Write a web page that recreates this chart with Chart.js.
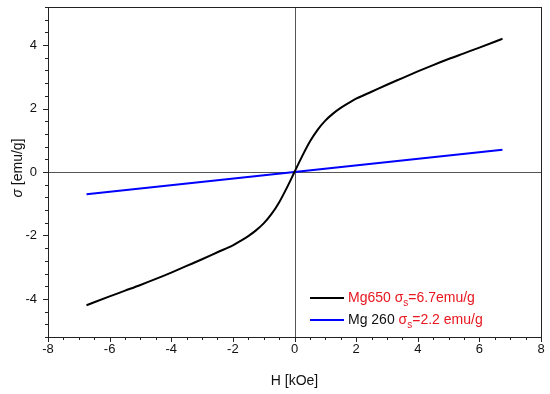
<!DOCTYPE html>
<html>
<head>
<meta charset="utf-8">
<script src="https://cdn.jsdelivr.net/npm/chart.js@4.4.1/dist/chart.umd.min.js"></script>
<style>
  html, body { margin: 0; padding: 0; background: #fff; }
  #wrap { width: 550px; height: 394px; }
</style>
</head>
<body>
<div id="wrap"><canvas id="mag-canvas" width="550" height="394"></canvas></div>
<script>
// data
const fieldMg650 = [-6.75, -6, -5.5, -5, -4.5, -4, -3.5, -3, -2.5, -2, -1.75, -1.5, -1.25, -1, -0.75, -0.5, -0.25, 0,
  0.25, 0.5, 0.75, 1, 1.25, 1.5, 1.75, 2, 2.5, 3, 3.5, 4, 4.5, 5, 5.5, 6, 6.75];
const sigmaMg650 = [-4.2, -3.92, -3.74, -3.56, -3.37, -3.17, -2.96, -2.75, -2.53, -2.31, -2.17, -2.02, -1.84, -1.62, -1.33, -0.96, -0.5, 0,
  0.5, 0.96, 1.33, 1.62, 1.84, 2.02, 2.17, 2.31, 2.53, 2.75, 2.96, 3.17, 3.37, 3.56, 3.74, 3.92, 4.2];
const fieldMg260 = [-6.75, 0, 6.75];
const sigmaMg260 = [-0.7, 0, 0.7];

const xTickLabels = [-8, -6, -4, -2, 0, 2, 4, 6, 8];
const yTickLabels = [-4, -2, 0, 2, 4];

const RED = "#e8161e";
const FONT = "'Liberation Sans', Arial, sans-serif";

const toPoints = (xs, ys) => xs.map((x, i) => ({ x: x, y: ys[i] }));

const stepTicks = (min, max, step) => {
  const out = [];
  for (let i = 0; min + i * step <= max + 1e-9; i++) {
    out.push({ value: +(min + i * step).toFixed(4) });
  }
  return out;
};

const isLabelled = (v, list) => list.some((t) => Math.abs(t - v) < 1e-6);

// frame, zero lines, tick marks, y title and legend
const decorations = {
  id: "decorations",
  beforeDatasetsDraw(chart) {
    const { ctx, chartArea: a, scales } = chart;
    const x0 = scales.x.getPixelForValue(0);
    const y0 = scales.y.getPixelForValue(0);
    ctx.save();
    ctx.strokeStyle = "#555";
    ctx.lineWidth = 1;
    ctx.beginPath();
    ctx.moveTo(Math.round(x0) + 0.5, a.top);
    ctx.lineTo(Math.round(x0) + 0.5, a.bottom);
    ctx.moveTo(a.left, Math.round(y0) + 0.5);
    ctx.lineTo(a.right, Math.round(y0) + 0.5);
    ctx.stroke();
    ctx.restore();
  },
  afterDraw(chart) {
    const { ctx, chartArea: a, scales } = chart;
    ctx.save();
    ctx.strokeStyle = "#222";
    ctx.lineWidth = 1;
    ctx.strokeRect(Math.round(a.left) + 0.5, Math.round(a.top) + 0.5,
      Math.round(a.right - a.left), Math.round(a.bottom - a.top));

    ctx.beginPath();
    scales.x.ticks.forEach((t) => {
      const px = Math.round(scales.x.getPixelForValue(t.value)) + 0.5;
      const len = isLabelled(t.value, xTickLabels) ? 5 : 3;
      ctx.moveTo(px, a.bottom);
      ctx.lineTo(px, a.bottom + len);
    });
    scales.y.ticks.forEach((t) => {
      const py = Math.round(scales.y.getPixelForValue(t.value)) + 0.5;
      const len = isLabelled(t.value, yTickLabels) ? 5 : 3;
      ctx.moveTo(a.left, py);
      ctx.lineTo(a.left - len, py);
    });
    ctx.stroke();

    // y title with italic sigma
    ctx.translate(18, (a.top + a.bottom) / 2 - 4);
    ctx.rotate(-Math.PI / 2);
    ctx.fillStyle = "#111";
    ctx.textBaseline = "middle";
    const sig = "σ";
    const rest = " [emu/g]";
    ctx.font = "14px " + FONT;
    const wRest = ctx.measureText(rest).width;
    ctx.font = "italic 14px " + FONT;
    const wSig = ctx.measureText(sig).width;
    const cx = -(wSig + wRest) / 2;
    ctx.fillText(sig, cx, 0);
    ctx.font = "14px " + FONT;
    ctx.fillText(rest, cx + wSig, 0);
    ctx.restore();

    // legend
    const rows = [
      { color: "#000", parts: [["Mg650 ", RED], ["σ", RED, "s"], ["=6.7emu/g", RED]] },
      { color: "#0000ff", parts: [["Mg 260 ", "#111"], ["σ", RED, "s"], ["=2.2 emu/g", RED]] },
    ];
    ctx.save();
    ctx.textBaseline = "middle";
    rows.forEach((row, i) => {
      const y = 298 + i * 22;
      ctx.strokeStyle = row.color;
      ctx.lineWidth = 2;
      ctx.beginPath();
      ctx.moveTo(310, y);
      ctx.lineTo(344, y);
      ctx.stroke();
      let x = 348;
      row.parts.forEach(([txt, col, sub]) => {
        ctx.fillStyle = col;
        ctx.font = "14px " + FONT;
        ctx.fillText(txt, x, y);
        x += ctx.measureText(txt).width;
        if (sub) {
          ctx.font = "10px " + FONT;
          ctx.fillText(sub, x, y + 5);
          x += ctx.measureText(sub).width;
        }
      });
    });
    ctx.restore();
  },
};

new Chart(document.getElementById("mag-canvas"), {
  type: "line",
  data: {
    datasets: [
      {
        label: "Mg650",
        data: toPoints(fieldMg650, sigmaMg650),
        borderColor: "#000",
        borderWidth: 2,
        pointRadius: 0,
        cubicInterpolationMode: "monotone",
      },
      {
        label: "Mg 260",
        data: toPoints(fieldMg260, sigmaMg260),
        borderColor: "#0000ff",
        borderWidth: 2,
        pointRadius: 0,
      },
    ],
  },
  options: {
    responsive: false,
    animation: false,
    layout: {
      padding: { top: 7, right: 9, left: 0, bottom: 0 },
    },
    scales: {
      x: {
        type: "linear",
        min: -8,
        max: 8,
        afterBuildTicks: (scale) => {
          scale.ticks = stepTicks(-8, 8, 0.5);
        },
        afterFit: (scale) => {
          scale.height = 57;
          scale.paddingLeft = 0;
          scale.paddingRight = 0;
        },
        ticks: {
          autoSkip: false,
          maxRotation: 0,
          padding: 5,
          color: "#111",
          font: { family: FONT, size: 13 },
          callback: (v) => (isLabelled(v, xTickLabels) ? String(Math.round(v)) : ""),
        },
        grid: { display: false, drawTicks: false },
        border: { display: false },
        title: {
          display: true,
          text: "H [kOe]",
          color: "#111",
          font: { family: FONT, size: 14 },
          padding: { top: 8 },
        },
      },
      y: {
        min: -5.2,
        max: 5.2,
        afterBuildTicks: (scale) => {
          scale.ticks = stepTicks(-5.2, 5.2, 0.4);
        },
        afterFit: (scale) => {
          scale.width = 48;
          scale.paddingTop = 0;
          scale.paddingBottom = 0;
        },
        ticks: {
          autoSkip: false,
          padding: 11,
          color: "#111",
          font: { family: FONT, size: 13 },
          callback: (v) => (isLabelled(v, yTickLabels) ? String(Math.round(v)) : ""),
        },
        grid: { display: false, drawTicks: false },
        border: { display: false },
      },
    },
    plugins: {
      legend: { display: false },
      tooltip: { enabled: false },
    },
  },
  plugins: [decorations],
});
</script>
</body>
</html>
